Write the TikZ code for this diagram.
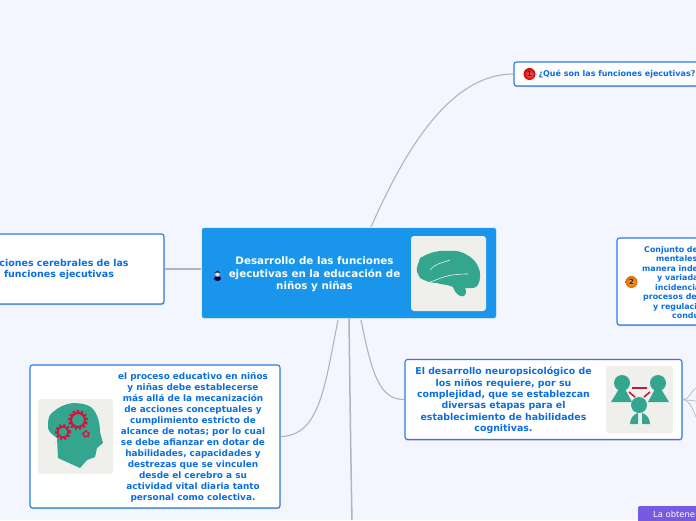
\documentclass[tikz,border=0pt]{standalone}
\usepackage{fontspec}
\setmainfont{DejaVu Sans}
\usepackage{tikz}
\usetikzlibrary{shadows}
\definecolor{pagebg}{RGB}{243, 246, 255}
\definecolor{mainblue}{RGB}{25, 150, 235}
\definecolor{textblue}{RGB}{10, 110, 225}
\definecolor{edgeblue}{RGB}{40, 125, 225}
\definecolor{linkgray}{RGB}{178, 180, 186}
\definecolor{iconbg}{RGB}{239, 240, 236}
\definecolor{icongreen}{RGB}{52, 166, 143}
\definecolor{iconred}{RGB}{200, 25, 60}
\definecolor{tagpurple}{RGB}{120, 90, 225}
\tikzset{
	topicbox/.style={rectangle, rounded corners=2.5pt, draw=edgeblue, line width=1.1pt, fill=white, drop shadow={shadow xshift=0.3pt, shadow yshift=-1.2pt, opacity=0.4}},
	topictext/.style={text=textblue, font=\fontsize{8}{9.6}\selectfont\bfseries, align=center, inner sep=0pt},
	iconbox/.style={rectangle, rounded corners=3pt, fill=iconbg, inner sep=0pt},
	link/.style={linkgray, line width=1.1pt},
	sublink/.style={linkgray, line width=0.6pt},
	badge/.style={circle, draw=none, inner sep=0pt, minimum size=12pt, font=\fontsize{7}{7}\selectfont\bfseries, text=black!85}
}
\begin{document}
\begin{tikzpicture}[x=1pt,y=-1pt]
	\useasboundingbox[fill=pagebg] (0,0) rectangle (696,520);
	% connectors first
	\coordinate (mainN) at (371,227);
	\coordinate (mainW) at (201,269);
	\coordinate (mainSa) at (338,320);
	\coordinate (mainSc) at (361,320);
	\coordinate (offS) at (352,520);
	\coordinate (offEa) at (696,401);
	\coordinate (offEb) at (696,388);
	\coordinate (offEc) at (696,417);
	\node[topicbox, minimum width=184pt, minimum height=24pt] (whatbox) at (606,74) {};
	\node[topicbox, minimum width=170pt, minimum height=70pt] (brainbox) at (79,269) {};
	\node[topicbox, minimum width=250pt, minimum height=143pt] (educbox) at (155,436.5) {};
	\node[topicbox, minimum width=277pt, minimum height=80pt] (devbox) at (543.5,399.5) {};
	\node[topicbox, minimum width=100pt, minimum height=87pt] (setbox) at (667,281.5) {};
	\node[rectangle, rounded corners=2pt, fill=mainblue, draw=mainblue!70!white, minimum width=294pt, minimum height=90pt] (mainbox) at (349,273) {};
	\draw[link] (mainN) .. controls (405,150) and (450,74) .. (whatbox.west);
	\draw[link] (mainW) -- (brainbox.east);
	\draw[link] (mainSa) .. controls (325,385) and (320,436) .. (educbox.east);
	\draw[link, line width=1.5pt] (mainbox.south) .. controls (350,400) and (351,470) .. (offS);
	\draw[link] (mainSc) .. controls (372,375) and (380,400) .. (devbox.west);
	\draw[sublink] (devbox.east) .. controls (689,400) and (690,392) .. (offEb);
	\draw[sublink] (devbox.east) -- (offEa);
	\draw[sublink] (devbox.east) .. controls (689,400) and (691,405) .. (offEc);
	% central topic
	\node[rectangle, rounded corners=2pt, fill=mainblue, minimum width=293pt, minimum height=89pt] (mainfill) at (349,273) {};
	\node[text=white, font=\fontsize{10.3}{12.6}\selectfont\bfseries, align=center, inner sep=0pt] (maintext) at (314.5,274.5) {Desarrollo de las funciones\\ejecutivas en la educación de\\niños y niñas};
	\fill[black!65!blue] (217.5,278.5) ellipse (3.5pt and 2.5pt);
	\fill[orange!30!white] (217.5,274.5) circle (2.2pt);
	\fill[black!85] (214.5,272.5) -- (217.5,270.5) -- (220.5,272.5) -- cycle;
	\node[iconbox, minimum width=75pt, minimum height=75pt] (brainicon) at (448.5,273.5) {};
	\fill[icongreen] (417,272) .. controls (416,266) and (419,263) .. (420,258) .. controls (427,254) and (436,250) .. (447,251) .. controls (456,250) and (463,252) .. (467,255) .. controls (475,259) and (481,268) .. (480,277) .. controls (480,283) and (477,288) .. (473,288) -- (465,288) .. controls (467,292) and (466,295) .. (464,296) .. controls (460,297) and (456,295) .. (453,287) .. controls (447,284) and (442,285) .. (437,283) .. controls (431,283) and (425,281) .. (420,278) -- cycle;
	\draw[iconbg, semithick] (430,270) .. controls (434,264) and (442,263) .. (450,260) (430,282) .. controls (440,279) and (445,274) .. (468,274);
	% first topic
	\node[topictext] (whattext) at (617,74.5) {¿Qué son las funciones ejecutivas?};
	\node[badge, inner color=red!60!white, outer color=red!80!black] (whatbadge) at (529.5,74) {1};
	% left topic
	\node[topictext, font=\fontsize{9.5}{11}\selectfont\bfseries] (braintext) at (64,269.5) {ciones cerebrales de las\\funciones ejecutivas\hspace*{10pt}};
	% lower left topic
	\node[iconbox, minimum width=75pt, minimum height=75pt] (headicon) at (75.5,436.5) {};
	\fill[icongreen] (58,458) -- (57,438) .. controls (50,433) and (47,430) .. (48,425) .. controls (48,417) and (50,414) .. (53,412) .. controls (60,406) and (66,404) .. (73,403) .. controls (82,403) and (89,405) .. (92,408) .. controls (98,414) and (100,424) .. (100,432) -- (103,443) -- (97,448) -- (95,457) -- (87,460) -- (80,468) -- cycle;
	\foreach \gx/\gy/\gr/\gw in {78/420/7/2.2, 63/432/5.5/1.8, 86/434/2.5/1} {
		\draw[iconred, line width=\gw pt] (\gx,\gy) circle (\gr pt);
		\draw[iconred, line width=1.6*\gw pt, dash pattern=on 2pt off 2pt] (\gx,\gy) circle (\gr pt + 0.6*\gw pt);
	}
	\node[topictext, font=\fontsize{8.9}{11}\selectfont\bfseries] (eductext) at (193,437) {el proceso educativo en niños\\y niñas debe establecerse\\más allá de la mecanización\\de acciones conceptuales y\\cumplimiento estricto de\\alcance de notas; por lo cual\\se debe afianzar en dotar de\\habilidades, capacidades y\\destrezas que se vinculen\\desde el cerebro a su\\actividad vital diaria tanto\\personal como colectiva.};
	% lower right topic
	\node[topictext, font=\fontsize{9.4}{11.4}\selectfont\bfseries] (devtext) at (503.5,400.5) {El desarrollo neuropsicológico de\\los niños requiere, por su\\complejidad, que se establezcan\\diversas etapas para el\\establecimiento de habilidades\\cognitivas.};
	\node[iconbox, minimum width=67pt, minimum height=67pt] (peopleicon) at (639.5,399.5) {};
	\fill[icongreen] (622,383) circle (8pt);
	\fill[icongreen] (658,383) circle (8pt);
	\fill[icongreen] (639,405) circle (8pt);
	\fill[icongreen] (611,402) -- (619,389) -- (625,389) -- (632,402) -- cycle;
	\fill[icongreen] (648,402) -- (655,389) -- (661,389) -- (669,402) -- cycle;
	\fill[icongreen] (630,424) .. controls (630,418) and (634,414) .. (638,413) -- (638,424) -- cycle;
	\fill[icongreen] (650,424) .. controls (650,418) and (646,414) .. (642,413) -- (642,424) -- cycle;
	\draw[iconred, line width=1.6pt] (632,388) -- (647,388) (629,392) -- (635,397) (650,392) -- (644,397);
	% right topic
	\foreach \i/\lx/\ly/\ltext in {a/644/252/Conjunto de, b/656/261.5/mentales, c/642/271/manera inde, d/657/280.5/y variada, e/655/290/incidencia, f/643/299.5/procesos de, g/653/309/y regulaci, h/672/318.5/condu} {
		\node[topictext, font=\fontsize{7.9}{9.6}\selectfont\bfseries, anchor=base west] (setline\i) at (\lx,\ly) {\ltext};
	}
	\node[badge, inner color=orange!70!white, outer color=orange!85!black] (setbadge) at (631.5,282) {2};
	% purple tag
	\node[rectangle, rounded corners=2pt, fill=tagpurple, minimum width=70pt, minimum height=24pt] (tagbox) at (673,518) {};
	\node[text=white, font=\fontsize{8.4}{9}\selectfont, anchor=west, inner sep=0pt] (tagtext) at (653,514) {La obtene};
\end{tikzpicture}
\end{document}
